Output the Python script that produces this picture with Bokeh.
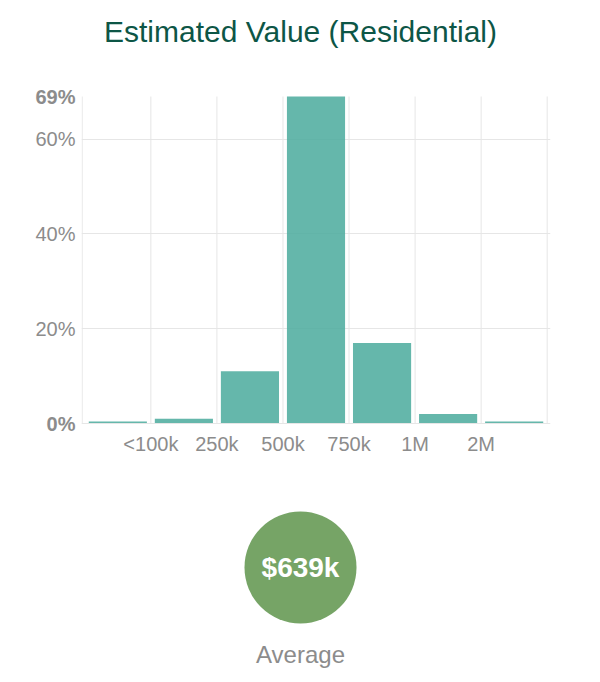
from bokeh.core.properties import value
from bokeh.embed import file_html
from bokeh.layouts import column, row
from bokeh.models import FixedTicker, Range1d, Span
from bokeh.plotting import figure
from bokeh.resources import INLINE

# histogram of estimated residential values
bins = ["<100k", "100k-250k", "250k-500k", "500k-750k", "750k-1M", "1M-2M", ">2M"]
shares = [0.4, 1.0, 11.0, 69.0, 17.0, 2.0, 0.4]
edge_labels = ["<100k", "250k", "500k", "750k", "1M", "2M"]
y_ticks = [0, 20, 40, 60, 69]
y_bold_ticks = [0, 69]
average_label = "$639k"

FONT = "Liberation Sans"
GRAY = "#8c8c8c"
GRID = "#e6e6e6"

WIDTH = 600
TITLE_H = 68
CHART_H = 400
BADGE_H = 214
LABEL_W = 81
PLOT_PX = 327  # pixel height from 0% to the top value
PAD_PX = 10  # room around the data so the end labels are not clipped


def bare(fig):
    """Strip axes, grid and outline from a helper figure"""
    fig.axis.visible = False
    fig.grid.visible = False
    fig.outline_line_color = None


# title strip
t = figure(
    width=WIDTH,
    height=TITLE_H,
    x_range=Range1d(0, WIDTH),
    y_range=Range1d(TITLE_H, 0),
    output_backend="svg",
    toolbar_location=None,
    tools="",
    min_border=0,
)
bare(t)
t.text(
    x=[WIDTH / 2],
    y=[31],
    text=["Estimated Value (Residential)"],
    text_align="center",
    text_baseline="middle",
    text_font=value(FONT),
    text_font_size="30px",
    text_color="#0d5646",
)

# main chart
y_top = max(shares)
pad = PAD_PX * y_top / PLOT_PX
y_range = Range1d(-pad, y_top + pad)
x_start = -0.05
p = figure(
    width=WIDTH - LABEL_W,
    height=CHART_H,
    x_range=Range1d(x_start, len(bins) + 0.05),
    y_range=y_range,
    output_backend="svg",
    toolbar_location=None,
    tools="",
    min_border_left=0,
    min_border_right=50,
    min_border_top=28 - PAD_PX,
    min_border_bottom=CHART_H - 28 - PLOT_PX - PAD_PX,
)
p.outline_line_color = None
p.yaxis.visible = False

# vertical grid lines only span the data height
edges = [x_start + 0.01] + list(range(1, len(bins) + 1))
p.segment(x0=edges, y0=0, x1=edges, y1=y_top, line_color=GRID, line_width=1)
p.add_layout(Span(location=0, dimension="width", line_color=GRID, line_width=1))

p.vbar(
    x=[i + 0.5 for i in range(len(bins))],
    top=shares,
    width=0.88,
    fill_color="#4aaa9c",
    fill_alpha=0.85,
    line_color=None,
)

# x axis sits below the padded frame; pull its labels up to the 0% line
p.xaxis.ticker = FixedTicker(ticks=list(range(1, len(bins))))
p.xaxis.major_label_overrides = {i + 1: s for i, s in enumerate(edge_labels)}
p.xaxis.axis_line_color = None
p.xaxis.major_tick_line_color = None
p.xaxis.minor_tick_line_color = None
p.xaxis.major_label_standoff = 3 - PAD_PX
p.xaxis.major_label_text_font = FONT
p.xaxis.major_label_text_font_size = "20px"
p.xaxis.major_label_text_color = GRAY

p.xgrid.visible = False
p.ygrid.ticker = FixedTicker(ticks=[v for v in y_ticks if v not in y_bold_ticks])
p.ygrid.grid_line_color = GRID

# y tick labels drawn in their own strip so 0% and 69% can be bold
yl = figure(
    width=LABEL_W,
    height=CHART_H,
    x_range=Range1d(0, LABEL_W),
    y_range=y_range,
    output_backend="svg",
    toolbar_location=None,
    tools="",
    min_border_left=0,
    min_border_right=0,
    min_border_top=28 - PAD_PX,
    min_border_bottom=CHART_H - 28 - PLOT_PX - PAD_PX,
)
bare(yl)
normal = [v for v in y_ticks if v not in y_bold_ticks]
yl.text(
    x=[LABEL_W - 6] * len(normal),
    y=normal,
    text=[f"{v}%" for v in normal],
    text_align="right",
    text_baseline="middle",
    text_font=value(FONT),
    text_font_size="20px",
    text_color=GRAY,
)
yl.text(
    x=[LABEL_W - 6] * len(y_bold_ticks),
    y=y_bold_ticks,
    text=[f"{v}%" for v in y_bold_ticks],
    text_align="right",
    text_baseline="middle",
    text_font=value(FONT),
    text_font_size="20px",
    text_font_style="bold",
    text_color=GRAY,
)

# average badge
q = figure(
    width=WIDTH,
    height=BADGE_H,
    x_range=Range1d(0, WIDTH),
    y_range=Range1d(BADGE_H, 0),
    output_backend="svg",
    toolbar_location=None,
    tools="",
    min_border=0,
)
bare(q)
q.scatter(x=[WIDTH / 2], y=[99], size=112, fill_color="#76a466", line_color=None)
q.text(
    x=[WIDTH / 2],
    y=[99],
    text=[average_label],
    text_align="center",
    text_baseline="middle",
    text_font=value(FONT),
    text_font_size="28px",
    text_font_style="bold",
    text_color="white",
)
q.text(
    x=[WIDTH / 2],
    y=[186],
    text=["Average"],
    text_align="center",
    text_baseline="middle",
    text_font=value(FONT),
    text_font_size="24px",
    text_color=GRAY,
)

layout = column(t, row(yl, p), q)
open("out.html", "w").write(file_html(layout, INLINE))
